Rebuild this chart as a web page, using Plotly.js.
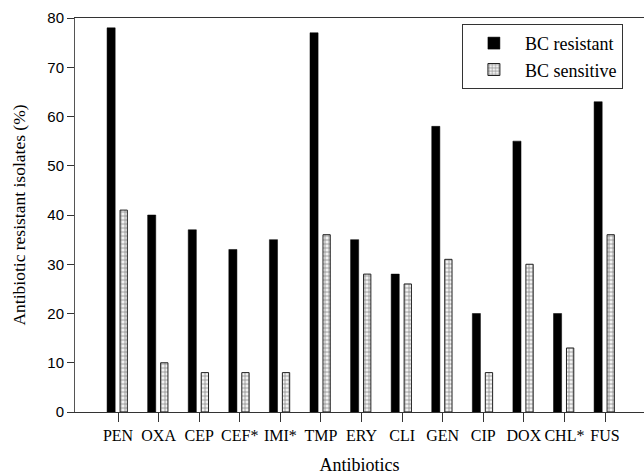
<!DOCTYPE html>
<html>
<head>
<meta charset="utf-8">
<script src="https://cdn.plot.ly/plotly-3.0.1.min.js"></script>
<style>html,body{margin:0;padding:0;background:#fff;}#chart{width:644px;height:475px;}</style>
</head>
<body>
<div id="chart"></div>
<script>
const categories = ["PEN","OXA","CEP","CEF*","IMI*","TMP","ERY","CLI","GEN","CIP","DOX","CHL*","FUS"];
const resistant = [78,40,37,33,35,77,35,28,58,20,55,20,63];
const sensitive = [41,10,8,8,8,36,28,26,31,8,30,13,36];
const seriesNames = ["BC resistant","BC sensitive"];

const traces = [
  {
    type: "bar", name: seriesNames[0], x: categories, y: resistant,
    width: 0.2, offset: -0.27,
    marker: {color: "#000000", line: {color: "#000000", width: 0.5}}
  },
  {
    type: "bar", name: seriesNames[1], x: categories, y: sensitive,
    width: 0.18, offset: 0.05,
    marker: {color: "#ffffff", line: {color: "#222222", width: 1},
      pattern: {shape: "+", fgcolor: "#8a8a8a", bgcolor: "#f2f2f2", size: 4, solidity: 0.35}}
  }
];

const serif = "Liberation Serif, Times New Roman, serif";

const layout = {
  width: 644, height: 475,
  margin: {l: 75, r: 0, t: 18, b: 63},
  paper_bgcolor: "#fff", plot_bgcolor: "#fff",
  barmode: "overlay",
  showlegend: true,
  legend: {
    x: 0.68, y: 0.985, xanchor: "left", yanchor: "top",
    bordercolor: "#333", borderwidth: 1, bgcolor: "#fff",
    font: {family: serif, size: 18, color: "#000"},
    itemwidth: 52, tracegroupgap: 6, entrywidth: 127
  },
  xaxis: {
    type: "category", range: [-1.06, 12.96],
    showline: true, linecolor: "#333", linewidth: 1, mirror: true,
    ticks: "outside", ticklen: 9, tickcolor: "#333",
    showgrid: false, zeroline: false,
    tickfont: {family: serif, size: 16, color: "#000"},
    title: {text: "Antibiotics", standoff: 16,
      font: {family: serif, size: 18, color: "#000"}}
  },
  yaxis: {
    range: [0, 80], dtick: 10, tick0: 0,
    showline: true, linecolor: "#555", linewidth: 1,
    ticks: "outside", ticklen: 7, tickcolor: "#333",
    showgrid: false, zeroline: false,
    tickfont: {family: "Liberation Sans, Arial, sans-serif", size: 15, color: "#000"},
    title: {text: "Antibiotic resistant isolates (%)", standoff: 17,
      font: {family: serif, size: 17.5, color: "#000"}}
  }
};

Plotly.newPlot("chart", traces, layout, {displayModeBar: false, staticPlot: true});
</script>
</body>
</html>
